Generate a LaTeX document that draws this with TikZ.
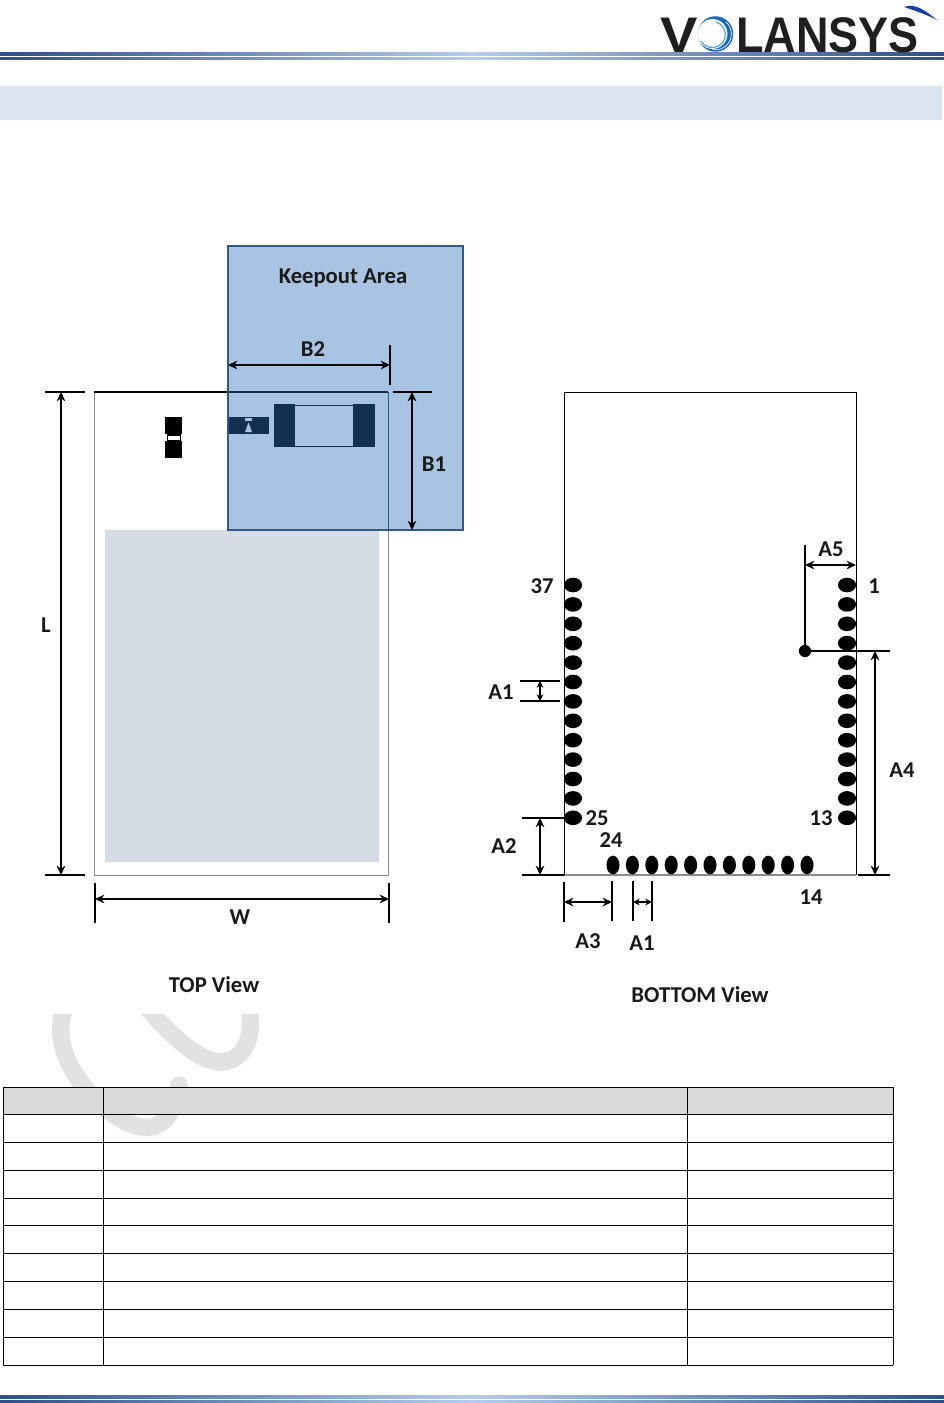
\documentclass[tikz,border=0pt]{standalone}
\usepackage{fontspec}
\setmainfont{Carlito}
\newfontfamily\logofont{Liberation Sans}
\usetikzlibrary{arrows.meta}
\definecolor{keepfill}{HTML}{A9C4E2}
\definecolor{keepedge}{HTML}{2F5A8A}
\definecolor{compdark}{HTML}{12304F}
\definecolor{grayarea}{HTML}{D6DCE5}
\definecolor{bandblue}{HTML}{DBE5F1}
\definecolor{headgray}{HTML}{D9D9D9}
\definecolor{wmark}{HTML}{E2E2E2}
\definecolor{ruledark}{HTML}{2F5082}
\definecolor{rulelight}{HTML}{B5CDE8}
\definecolor{swirlA}{HTML}{1C68B8}
\definecolor{swirlB}{HTML}{4FA6E6}
\definecolor{swirlC}{HTML}{1A3FA8}
\tikzset{
  x=0.75pt,y=-0.75pt,
  lbl/.style={font=\bfseries\fontsize{17}{18}\selectfont,text=black!90,inner sep=0pt},
  tick/.style={line width=1.7pt,black},
  dim/.style={line width=1.5pt,black,{Stealth[length=7pt,width=6.5pt]}-{Stealth[length=7pt,width=6.5pt]}},
  smalldim/.style={line width=1.3pt,black,{Stealth[length=5pt,width=5pt]}-{Stealth[length=5pt,width=5pt]}},
  cell/.style={line width=0.65pt,black},
}
\begin{document}
\begin{tikzpicture}
\useasboundingbox (0,0) rectangle (944,1403);
\fill[white] (0,0) rectangle (944,1403);

% header rules
\shade[left color=ruledark,right color=rulelight] (0,52.5) rectangle (472,55.5);
\shade[left color=rulelight,right color=ruledark] (472,52.5) rectangle (944,55.5);
\shade[left color=ruledark,right color=rulelight] (0,57) rectangle (472,59.5);
\shade[left color=rulelight,right color=ruledark] (472,57) rectangle (944,59.5);
% footer rules
\shade[left color=ruledark,right color=rulelight] (0,1395.5) rectangle (472,1398.5);
\shade[left color=rulelight,right color=ruledark] (472,1395.5) rectangle (944,1398.5);
\shade[left color=ruledark,right color=rulelight] (0,1400) rectangle (472,1402.5);
\shade[left color=rulelight,right color=ruledark] (472,1400) rectangle (944,1402.5);

% logo
\node[anchor=base west,inner sep=0pt,text=black!88,xscale=1.12] (logoV) at (660,52) {\logofont\bfseries\fontsize{37.5}{38}\selectfont V};
\node[anchor=base west,inner sep=0pt,text=black!88,xscale=0.9] (logoRest) at (736,52) {\logofont\bfseries\fontsize{37.5}{38}\selectfont LANSYS};
\fill[swirlA] (715.5,34) circle[radius=13.3pt];
\fill[white] (712.5,34) circle[radius=11.2pt];
\draw[swirlB,line width=0.9pt] (712.5,34) ++(75:9.4pt) arc[start angle=75,end angle=-150,radius=9.8pt];
\fill[white] (710.5,33.5) circle[radius=8.6pt];
\draw[white,line width=0.5pt] (715.5,34) ++(50:11.9pt) arc[start angle=50,end angle=-100,radius=11.9pt];
\fill[swirlC] (904,7) .. controls (915,3) and (925,10) .. (937,20) .. controls (925,14) and (916,11) .. (904,7) -- cycle;

% band
\fill[bandblue] (0,86) rectangle (942,120);

% top view
\draw[black!45,line width=0.7pt] (94,392) rectangle (388,875);
\draw[black,line width=0.8pt] (94,392) -- (228,392);
\fill[grayarea] (105,530) rectangle (379,862);
\fill[black] (165,417) rectangle (182,434);
\fill[black] (165,441) rectangle (182,458);
\fill[black] (166.5,434) rectangle (181,441);
\fill[white] (168,436) rectangle (180,439.5);

% keepout
\draw[fill=keepfill,draw=keepedge,line width=1.5pt] (228,246) rectangle (463,530);
\draw[compdark,line width=0.8pt] (228,392) -- (388,392);
\draw[keepedge,line width=0.7pt] (388,392) -- (388,530);
\fill[compdark] (229,417) rectangle (269,434);
\fill[keepfill] (245,418) rectangle (252,420.5);
\fill[keepfill] (248.5,422.5) -- (252,432) -- (245,432) -- cycle;
\fill[compdark] (274,404) rectangle (295,447);
\fill[compdark] (353,404) rectangle (375,447);
\draw[compdark,line width=1pt] (295,405.5) -- (353,405.5);
\draw[compdark,line width=1.4pt] (284,446.5) -- (366,446.5);

\node[lbl] (keepout) at (343,278) {Keepout Area};
\node[lbl] (b2) at (313,349) {B2};
\node[lbl] (b1) at (434,464) {B1};
\node[lbl] (l) at (46,625) {L};
\node[lbl] (w) at (240,917) {W};
\node[lbl] (topview) at (214,985) {TOP View};
\node[lbl] (bottomview) at (700,995) {BOTTOM View};

% top-view dimensions
\coordinate (Lt1) at (45,392); \coordinate (Lt2) at (85,392);
\coordinate (Lb1) at (45,875); \coordinate (Lb2) at (85,875);
\coordinate (La) at (61,392); \coordinate (Lz) at (61,875);
\draw[tick] (Lt1) -- (Lt2); \draw[tick] (Lb1) -- (Lb2);
\draw[dim] (La) -- (Lz);
\coordinate (Wl1) at (95,883); \coordinate (Wl2) at (95,923);
\coordinate (Wr1) at (389,883); \coordinate (Wr2) at (389,923);
\coordinate (Wa) at (95,899); \coordinate (Wz) at (389,899);
\draw[tick] (Wl1) -- (Wl2); \draw[tick] (Wr1) -- (Wr2);
\draw[dim] (Wa) -- (Wz);
\coordinate (B2t) at (390,345); \coordinate (B2b) at (390,385);
\coordinate (B2a) at (228,365); \coordinate (B2z) at (390,365);
\draw[tick] (B2t) -- (B2b);
\draw[dim] (B2a) -- (B2z);
\coordinate (B1l) at (393,392); \coordinate (B1r) at (432,392);
\coordinate (B1a) at (412,392); \coordinate (B1z) at (412,530);
\draw[tick] (B1l) -- (B1r);
\draw[dim] (B1a) -- (B1z);

% bottom view
\draw[black!45,line width=0.8pt] (564,875) -- (856,875);
\draw[black,line width=0.7pt] (564,875) -- (564,392) -- (856,392) -- (856,875);
\foreach \y in {585,604.4,623.8,643.2,662.6,682,701.4,720.8,740.2,759.6,779,798.4,817.8}{
  \fill[black] (573,\y) ellipse[x radius=6.8pt,y radius=5.5pt];
  \fill[black] (847,\y) ellipse[x radius=6.8pt,y radius=5.5pt];
}
\foreach \x in {613,632.4,651.8,671.2,690.6,710,729.4,748.8,768.2,787.6,807}{
  \fill[black] (\x,865) ellipse[x radius=4.9pt,y radius=7pt];
}
\node[lbl] (n37) at (542,586) {37};
\node[lbl] (n1) at (874,586) {1};
\node[lbl] (n25) at (597,818) {25};
\node[lbl] (n24) at (611,840) {24};
\node[lbl] (n13) at (821,818) {13};
\node[lbl] (n14) at (811,897) {14};
\node[lbl] (a1l) at (501,692) {A1};
\node[lbl] (a2) at (504,846) {A2};
\node[lbl] (a3) at (588,941) {A3};
\node[lbl] (a1b) at (642,943) {A1};
\node[lbl] (a4) at (902,770) {A4};
\node[lbl] (a5) at (831,549) {A5};

\coordinate (A1t1) at (520,681); \coordinate (A1t2) at (560,681);
\coordinate (A1b1) at (520,701); \coordinate (A1b2) at (560,701);
\coordinate (A1a) at (540,681); \coordinate (A1z) at (540,701);
\draw[tick] (A1t1) -- (A1t2); \draw[tick] (A1b1) -- (A1b2);
\draw[smalldim] (A1a) -- (A1z);

\coordinate (A2t1) at (522,818); \coordinate (A2t2) at (564,818);
\coordinate (A2b1) at (522,875); \coordinate (A2b2) at (564,875);
\coordinate (A2a) at (540,818); \coordinate (A2z) at (540,875);
\draw[tick] (A2t1) -- (A2t2); \draw[tick] (A2b1) -- (A2b2);
\draw[dim] (A2a) -- (A2z);

\coordinate (A3l1) at (564,882); \coordinate (A3l2) at (564,922);
\coordinate (A3r1) at (612,881); \coordinate (A3r2) at (612,921);
\coordinate (A3a) at (564,902); \coordinate (A3z) at (612,902);
\draw[tick] (A3l1) -- (A3l2); \draw[tick] (A3r1) -- (A3r2);
\draw[dim] (A3a) -- (A3z);

\coordinate (A1l1) at (633,881); \coordinate (A1l2) at (633,921);
\coordinate (A1r1) at (652,881); \coordinate (A1r2) at (652,921);
\coordinate (A1c) at (633,902); \coordinate (A1d) at (652,902);
\draw[tick] (A1l1) -- (A1l2); \draw[tick] (A1r1) -- (A1r2);
\draw[smalldim] (A1c) -- (A1d);

\coordinate (dot) at (805,651);
\coordinate (A5top) at (805,545);
\coordinate (A4r) at (890,651);
\coordinate (A4b1) at (858,875); \coordinate (A4b2) at (890,875);
\coordinate (A4a) at (875,651); \coordinate (A4z) at (875,875);
\coordinate (A5a) at (805,565); \coordinate (A5z) at (856,565);
\fill[black] (dot) circle[radius=4.6pt];
\draw[tick] (A5top) -- (dot) -- (A4r);
\draw[tick] (A4b1) -- (A4b2);
\draw[dim] (A4a) -- (A4z);
\draw[dim] (A5a) -- (A5z);

% watermark
\begin{scope}
\clip (0,1014) rectangle (400,1200);
\draw[wmark,line width=13pt,line cap=round] (66,1005) .. controls (50,1040) and (72,1082) .. (110,1112) .. controls (145,1138) and (172,1132) .. (179,1085);
\draw[wmark,line width=13pt] (145,1005) .. controls (165,1030) and (198,1062) .. (220,1062) .. controls (242,1062) and (256,1040) .. (248,1005);
\end{scope}

% table
\fill[headgray] (3,1087) rectangle (893,1114.7);
\foreach \y in {1087,1114.7,1142.5,1170.5,1198,1225.5,1253.5,1281.5,1309.5,1337.5,1365}{
  \draw[cell] (3,\y) -- (893,\y);
}
\foreach \x in {3,103,687,893}{
  \draw[cell] (\x,1087) -- (\x,1365);
}
\end{tikzpicture}
\end{document}
